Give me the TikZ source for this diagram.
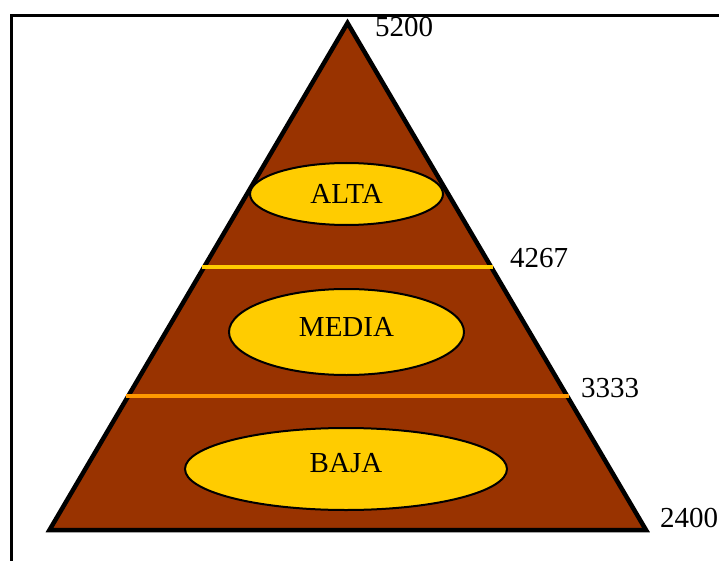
\documentclass[tikz,border=0pt]{standalone}
\usepackage{fontspec}
\setmainfont{Liberation Serif}
\usetikzlibrary{shapes.geometric,calc}
\definecolor{pyr_brown}{HTML}{993300}
\definecolor{pyr_yellow}{HTML}{FFCC00}
\definecolor{pyr_orange}{HTML}{FF9900}
\tikzset{
zone_oval/.style={
	% The shape:
	ellipse,
	% The border:
	draw=black,
	line width=2pt,
	% The filling:
	fill=pyr_yellow,
	inner sep=0pt,
	% Font
	font=\fontsize{29}{32}\selectfont
},
alt_label/.style={
	% placed by its baseline, to the right of the point
	anchor=base west,
	inner sep=0pt,
	font=\fontsize{29}{32}\selectfont
},
cut_line/.style={line width=4pt}
}

\begin{document}
\begin{tikzpicture}[x=1pt, y=-1pt]
			\useasboundingbox (0,0) rectangle (719,561);
			\draw[line width=2.5pt] (11.5,561) -- (11.5,15.3) -- (719,15.3);

			\coordinate (top) at (347.5,23);
			\coordinate (bl) at (49.5,530);
			\coordinate (br) at (646,530);
			\draw[line width=4.5pt, fill=pyr_brown] (top) -- (bl) -- (br) -- cycle;

			\draw[cut_line, pyr_yellow] ($(top)!0.4813!(bl) + (-2,0)$) -- ($(top)!0.4813!(br) + (2,0)$);
			\draw[cut_line, pyr_orange] ($(top)!0.7357!(bl) + (-2,0)$) -- ($(top)!0.7357!(br) + (2,0)$);

			% text depth lifts the words a little above the middle
			\node[zone_oval, minimum width=193pt, minimum height=62pt] (alta) at (346.5,194) {ALTA};
			\node[zone_oval, minimum width=235pt, minimum height=86pt, text depth=10pt] (media) at (346.5,332) {MEDIA};
			\node[zone_oval, minimum width=322pt, minimum height=82pt, text depth=12pt] (baja) at (346,469) {BAJA};

			\node[alt_label] (h5200) at (375,37) {5200};
			\node[alt_label] (h4267) at (510,267) {4267};
			\node[alt_label] (h3333) at (581,397) {3333};
			\node[alt_label] (h2400) at (660,527) {2400};
		\end{tikzpicture}
\end{document}
